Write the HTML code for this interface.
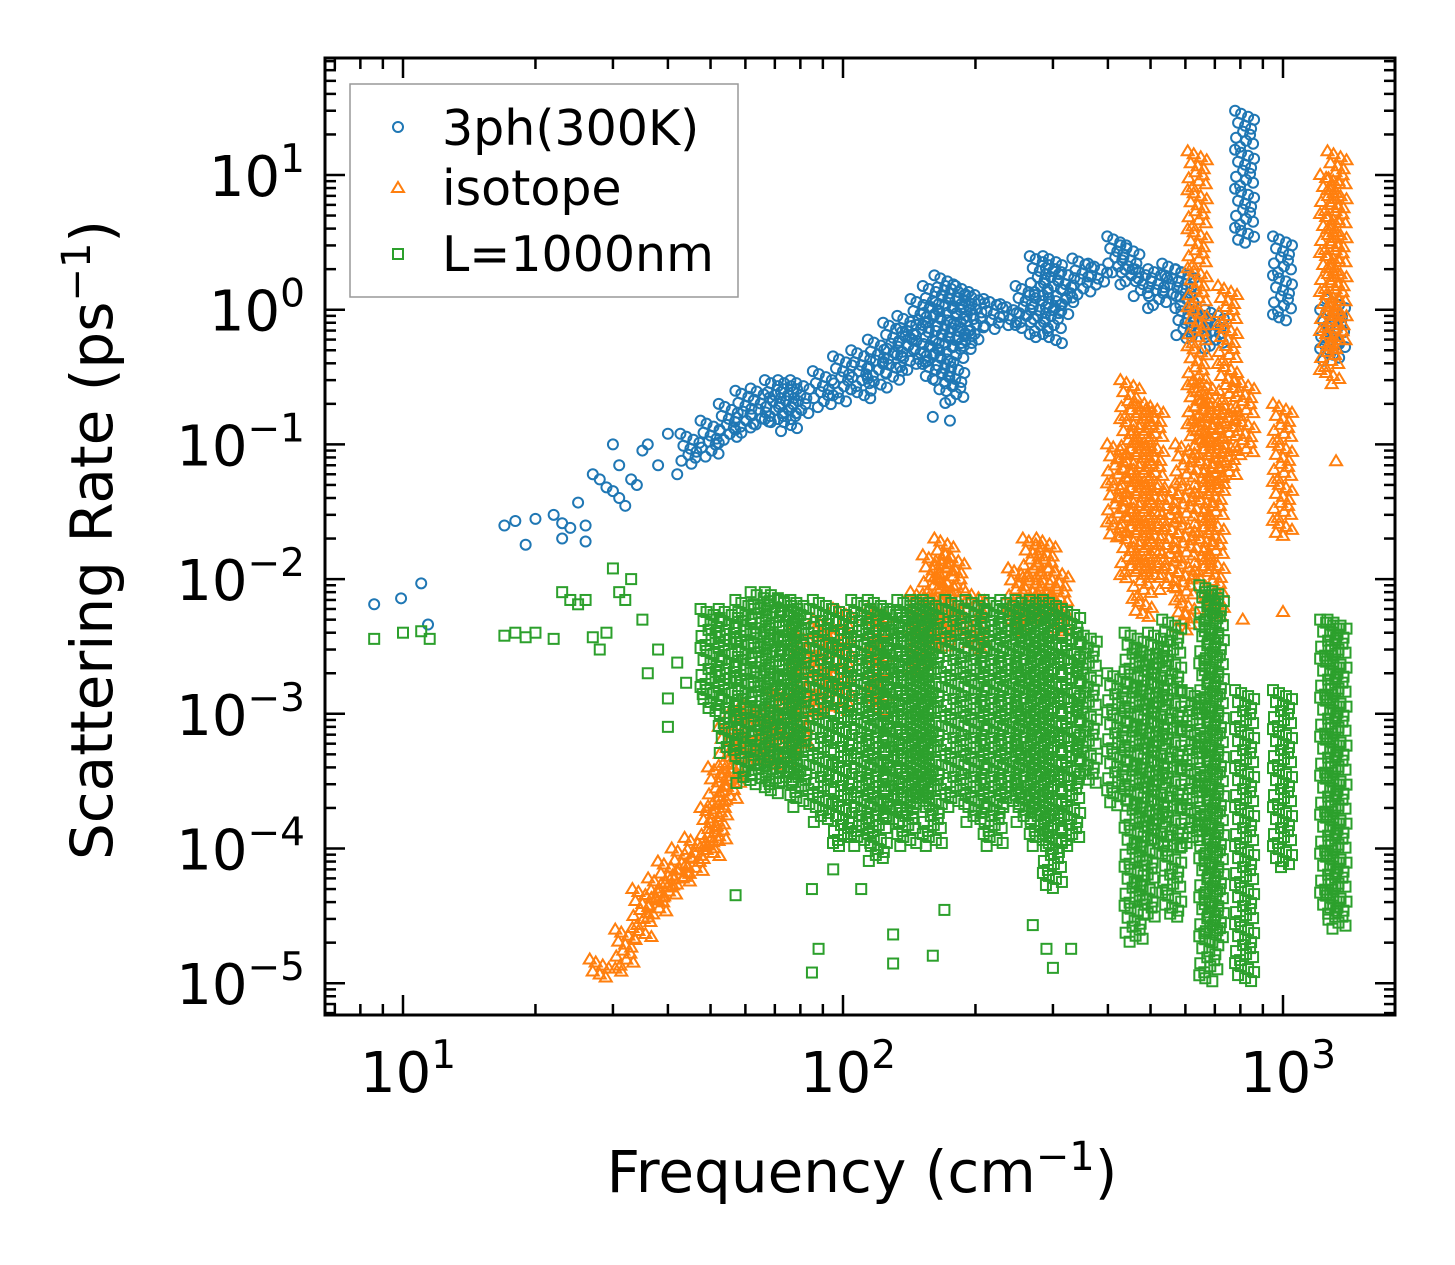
<!DOCTYPE html>
<html><head><meta charset="utf-8"><style>
html,body{margin:0;padding:0;background:#fff}
svg{display:block;font-family:"DejaVu Sans","Liberation Sans",sans-serif}
</style></head><body>
<svg id="chart" width="1455" height="1265" viewBox="0 0 1455 1265" xmlns="http://www.w3.org/2000/svg">
<rect width="1455" height="1265" fill="#fff"/>
<g id="marks"></g>
<g id="axes"></g>
<text x="862" y="1192" font-size="58" text-anchor="middle">Frequency (cm<tspan font-size="40" dy="-22">−1</tspan><tspan dy="22">)</tspan></text>
<text transform="translate(112,540) rotate(-90)" font-size="58" text-anchor="middle">Scattering Rate (ps<tspan font-size="40" dy="-22">−1</tspan><tspan dy="22">)</tspan></text>
<g>
<rect x="350" y="84" width="388" height="213" fill="#fff" stroke="#999" stroke-width="1.5"/>
<g><circle cx="398" cy="127" r="5" fill="none" stroke="#1f77b4" stroke-width="2"/><text x="442" y="145" font-size="49">3ph(300K)</text></g>
<g><path d="M398,182 L404,192 L392,192 Z" fill="none" stroke="#ff7f0e" stroke-width="2"/><text x="442" y="205" font-size="49">isotope</text></g>
<g><rect x="393" y="249" width="10" height="10" fill="none" stroke="#2ca02c" stroke-width="2"/><text x="442" y="271" font-size="49">L=1000nm</text></g>
</g>
</svg>
<script>
// Data
const blueBandFreq=[45,50,55,60,65,70,75,80,90,100,110,120,130,140,150,160,170,180,190,200,220,240,260,280,300,320,350,380,420,450,480,520,560,600,650,700,820,1000,1280,1320];
const blueBandLo=[.07,.08,.1,.12,.13,.14,.12,.15,.18,.2,.22,.25,.3,.35,.4,.3,.25,.2,.5,.6,.7,.75,.7,.6,.55,.9,1.2,1.5,1.8,1.5,1.2,1.0,1.2,.6,.6,.5,3,.8,.4,.5];
const blueBandHi=[.12,.15,.2,.25,.26,.3,.3,.3,.35,.45,.5,.6,.8,.9,1.2,1.5,1.8,1.5,1.5,1.3,1.2,1.1,1.5,2.5,2.5,2.0,2.4,2.2,3.5,3.0,2.0,2.0,2.2,2.0,1.0,1.0,30,3.5,1.0,1.2];
const bluePtF=[8.6,9.9,11,11.4,17,18,19,20,22,23,23,24,25,26,26,27,28,29,30,30,31,31,32,33,34,35,36,38,40,42,160,175];
const bluePtY=[.0065,.0072,.0093,.0046,.025,.027,.018,.028,.03,.02,.026,.024,.037,.025,.019,.06,.055,.048,.045,.1,.07,.04,.035,.055,.05,.09,.1,.07,.12,.06,.16,.15];
const orBandFreq=[28,32,35,38,40,43,46,50,52,55,58,62,66,72,80,90,100,120,150,160,170,180,200,250,270,290,310,420,450,480,510,550,600,640,660,700,750,820,1000,1280,1330];
const orBandLo=[1.1e-5,1.2e-5,2e-5,3e-5,4e-5,5e-5,6e-5,8e-5,1e-4,2e-4,3e-4,4e-4,4e-4,4e-4,5e-4,1e-3,1e-3,1e-3,2e-3,3e-3,3e-3,4e-3,3e-3,4e-3,5e-3,5e-3,4e-3,.02,.01,.005,.01,.008,.004,.1,.01,.005,.05,.08,.02,.3,.5];
const orBandHi=[1.5e-5,2.5e-5,5e-5,6e-5,8e-5,1e-4,1.2e-4,2e-4,4e-4,8e-4,1e-3,1.2e-3,1e-3,1.5e-3,4e-3,5e-3,6e-3,6e-3,8e-3,.015,.02,.015,.008,.012,.02,.02,.012,.1,.3,.2,.2,.05,.1,15,.3,.2,1.5,.3,.2,10,15];
const orPtF=[1000,1320,600,810,1290];
const orPtY=[.0057,.075,.0055,.005,.28];
const grBandFreq=[50,55,60,65,70,75,80,90,100,110,120,130,140,150,160,180,200,220,240,260,280,300,330,360,420,460,490,520,560,620,680,700,820,1000,1280,1330];
const grBandLo=[1e-3,5e-4,3e-4,3e-4,2.5e-4,3e-4,2e-4,1.5e-4,1e-4,1e-4,8e-5,1.5e-4,1e-4,2e-4,1e-4,2e-4,1.5e-4,1e-4,2e-4,1.5e-4,1e-4,5e-5,1e-4,3e-4,2e-4,2e-5,3e-5,1e-4,3e-5,1e-4,1e-5,2e-5,1e-5,7e-5,3e-5,2.5e-5];
const grBandHi=[6e-3,6e-3,7e-3,8e-3,8e-3,7e-3,7e-3,7e-3,6e-3,7e-3,7e-3,6e-3,7e-3,7e-3,7e-3,7e-3,7e-3,7e-3,7e-3,7e-3,7e-3,7e-3,6e-3,4e-3,2e-3,4e-3,3e-3,4e-3,5e-3,1.5e-3,9e-3,8e-3,1.5e-3,1.5e-3,5e-3,5e-3];
const grPtF=[8.6,10,11,11.5,17,18,19,20,22,23,24,25,26,27,28,29,30,31,32,33,35,36,38,40,42,44,40,48,50,55,57,85,85,88,95,110,130,130,160,170,270,290,300,330];
const grPtY=[.0036,.004,.0041,.0036,.0038,.004,.0037,.004,.0036,.008,.007,.0065,.007,.0037,.003,.004,.012,.008,.007,.01,.005,.002,.003,.0013,.0024,.0017,.0008,.0014,.005,.0011,4.5e-5,1.2e-5,5e-5,1.8e-5,7e-5,5e-5,2.3e-5,1.4e-5,1.6e-5,3.5e-5,2.7e-5,1.8e-5,1.3e-5,1.8e-5];
const xTicks=[1,2,3];
const yTicks=[-5,-4,-3,-2,-1,0,1];

const L=325,R=1395,T=58,B=1015;
const xs=f=>403+(Math.log10(f)-1)*440;
const ys=v=>175-(Math.log10(v)-1)*134.7;
const NS="http://www.w3.org/2000/svg";
const marks=document.getElementById('marks');
const axes=document.getElementById('axes');
function mk(tag,attrs,parent){const e=document.createElementNS(NS,tag);for(const k in attrs)e.setAttribute(k,attrs[k]);parent.appendChild(e);return e;}
function marker(type,x,y,g){
 if(type==='c') return mk('circle',{cx:x,cy:y,r:5,fill:'none',stroke:'#1f77b4','stroke-width':2},g);
 if(type==='t') return mk('path',{d:`M${x},${y-6} L${x+6},${y+4} L${x-6},${y+4} Z`,fill:'none',stroke:'#ff7f0e','stroke-width':2},g);
 return mk('rect',{x:x-5,y:y-5,width:10,height:10,fill:'none',stroke:'#2ca02c','stroke-width':2},g);
}
const offs=[-10,-4,3,9,-7,0,6,-2,5,-9,1,8,-5];
function series(name,type,bf,blo,bhi,pf,py){
 const g=mk('g',{},marks);
 
 
 for(let i=0;i<bf.length;i++){
  const x=xs(bf[i]);const y0=ys(blo[i]),y1=ys(bhi[i]);
  let k=0;
  for(let y=y1;y<=y0;y+=3){const m=marker(type,x+offs[k%offs.length],y,g);k++;
   
   }
 }
 for(let i=0;i<pf.length;i++){const m=marker(type,xs(pf[i]),ys(py[i]),g);
  
  }
}
series('series-3ph','c',blueBandFreq,blueBandLo,blueBandHi,bluePtF,bluePtY);
series('series-isotope','t',orBandFreq,orBandLo,orBandHi,orPtF,orPtY);
series('series-boundary','s',grBandFreq,grBandLo,grBandHi,grPtF,grPtY);

// axes
const fr=mk('rect',{x:L,y:T,width:R-L,height:B-T,fill:'none',stroke:'#000','stroke-width':3},axes);


for(let d=0;d<=3;d++){for(let m=1;m<10;m++){const f=Math.pow(10,d)*m;const x=xs(f);if(x<L||x>R)continue;const len=m===1?20:11;
 mk('line',{x1:x,x2:x,y1:B,y2:B-len,stroke:'#000','stroke-width':2.5},axes);
 mk('line',{x1:x,x2:x,y1:T,y2:T+len,stroke:'#000','stroke-width':2.5},axes);}}
for(let d=-6;d<=1;d++){for(let m=1;m<10;m++){const v=Math.pow(10,d)*m;const y=ys(v);if(y<T||y>B)continue;const len=m===1?20:11;
 mk('line',{x1:L,x2:L+len,y1:y,y2:y,stroke:'#000','stroke-width':2.5},axes);
 mk('line',{x1:R,x2:R-len,y1:y,y2:y,stroke:'#000','stroke-width':2.5},axes);}}
xTicks.forEach(e=>{const t=mk('text',{x:xs(Math.pow(10,e))+5,y:1092,'font-size':56,'text-anchor':'middle'},axes);
 
 
 t.innerHTML='10<tspan font-size="39" dy="-24">'+e+'</tspan>';});
yTicks.forEach(e=>{const t=mk('text',{x:305,y:ys(Math.pow(10,e))+21,'font-size':56,'text-anchor':'end'},axes);
 
 
 t.innerHTML='10<tspan font-size="39" dy="-24">'+(e<0?'−'+(-e):e)+'</tspan>';});
</script>
</body></html>
